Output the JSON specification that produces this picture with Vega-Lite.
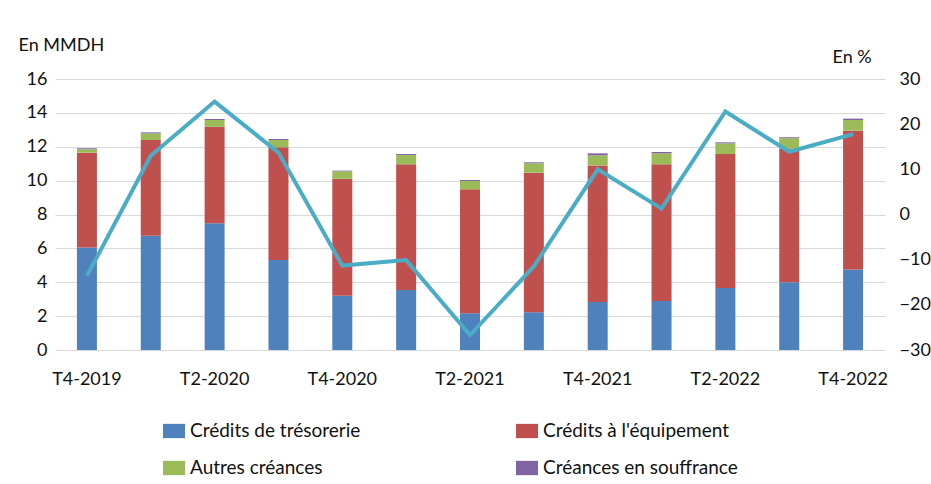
{
  "$schema": "https://vega.github.io/schema/vega-lite/v6.json",
  "width": 830,
  "height": 271,
  "autosize": {"type": "none"},
  "padding": {"left": 55, "top": 79, "right": 46, "bottom": 134},
  "background": "white",
  "config": {
    "font": "Lato",
    "view": {"stroke": null},
    "axis": {"labelFont": "Lato", "titleFont": "Lato", "labelColor": "#111", "titleColor": "#111", "labelFontSize": 18, "titleFontSize": 18, "titleFontWeight": "normal"},
    "legend": {"labelFont": "Lato", "labelFontSize": 19, "labelColor": "#111"}
  },
  "datasets": {
    "bars": [
      {"q": "T4-2019", "serie": "Crédits de trésorerie", "rang": 1, "v": 6.05},
      {"q": "T4-2019", "serie": "Crédits à l'équipement", "rang": 2, "v": 5.6},
      {"q": "T4-2019", "serie": "Autres créances", "rang": 3, "v": 0.2},
      {"q": "T4-2019", "serie": "Créances en souffrance", "rang": 4, "v": 0.06},
      {"q": "T1-2020", "serie": "Crédits de trésorerie", "rang": 1, "v": 6.75},
      {"q": "T1-2020", "serie": "Crédits à l'équipement", "rang": 2, "v": 5.65},
      {"q": "T1-2020", "serie": "Autres créances", "rang": 3, "v": 0.39},
      {"q": "T1-2020", "serie": "Créances en souffrance", "rang": 4, "v": 0.06},
      {"q": "T2-2020", "serie": "Crédits de trésorerie", "rang": 1, "v": 7.48},
      {"q": "T2-2020", "serie": "Crédits à l'équipement", "rang": 2, "v": 5.7},
      {"q": "T2-2020", "serie": "Autres créances", "rang": 3, "v": 0.4},
      {"q": "T2-2020", "serie": "Créances en souffrance", "rang": 4, "v": 0.06},
      {"q": "T3-2020", "serie": "Crédits de trésorerie", "rang": 1, "v": 5.31},
      {"q": "T3-2020", "serie": "Crédits à l'équipement", "rang": 2, "v": 6.66},
      {"q": "T3-2020", "serie": "Autres créances", "rang": 3, "v": 0.43},
      {"q": "T3-2020", "serie": "Créances en souffrance", "rang": 4, "v": 0.06},
      {"q": "T4-2020", "serie": "Crédits de trésorerie", "rang": 1, "v": 3.2},
      {"q": "T4-2020", "serie": "Crédits à l'équipement", "rang": 2, "v": 6.91},
      {"q": "T4-2020", "serie": "Autres créances", "rang": 3, "v": 0.44},
      {"q": "T4-2020", "serie": "Créances en souffrance", "rang": 4, "v": 0.04},
      {"q": "T1-2021", "serie": "Crédits de trésorerie", "rang": 1, "v": 3.54},
      {"q": "T1-2021", "serie": "Crédits à l'équipement", "rang": 2, "v": 7.42},
      {"q": "T1-2021", "serie": "Autres créances", "rang": 3, "v": 0.55},
      {"q": "T1-2021", "serie": "Créances en souffrance", "rang": 4, "v": 0.06},
      {"q": "T2-2021", "serie": "Crédits de trésorerie", "rang": 1, "v": 2.17},
      {"q": "T2-2021", "serie": "Crédits à l'équipement", "rang": 2, "v": 7.32},
      {"q": "T2-2021", "serie": "Autres créances", "rang": 3, "v": 0.49},
      {"q": "T2-2021", "serie": "Créances en souffrance", "rang": 4, "v": 0.06},
      {"q": "T3-2021", "serie": "Crédits de trésorerie", "rang": 1, "v": 2.23},
      {"q": "T3-2021", "serie": "Crédits à l'équipement", "rang": 2, "v": 8.24},
      {"q": "T3-2021", "serie": "Autres créances", "rang": 3, "v": 0.55},
      {"q": "T3-2021", "serie": "Créances en souffrance", "rang": 4, "v": 0.06},
      {"q": "T4-2021", "serie": "Crédits de trésorerie", "rang": 1, "v": 2.83},
      {"q": "T4-2021", "serie": "Crédits à l'équipement", "rang": 2, "v": 8.07},
      {"q": "T4-2021", "serie": "Autres créances", "rang": 3, "v": 0.59},
      {"q": "T4-2021", "serie": "Créances en souffrance", "rang": 4, "v": 0.12},
      {"q": "T1-2022", "serie": "Crédits de trésorerie", "rang": 1, "v": 2.89},
      {"q": "T1-2022", "serie": "Crédits à l'équipement", "rang": 2, "v": 8.07},
      {"q": "T1-2022", "serie": "Autres créances", "rang": 3, "v": 0.65},
      {"q": "T1-2022", "serie": "Créances en souffrance", "rang": 4, "v": 0.08},
      {"q": "T2-2022", "serie": "Crédits de trésorerie", "rang": 1, "v": 3.66},
      {"q": "T2-2022", "serie": "Crédits à l'équipement", "rang": 2, "v": 7.91},
      {"q": "T2-2022", "serie": "Autres créances", "rang": 3, "v": 0.63},
      {"q": "T2-2022", "serie": "Créances en souffrance", "rang": 4, "v": 0.06},
      {"q": "T3-2022", "serie": "Crédits de trésorerie", "rang": 1, "v": 4.0},
      {"q": "T3-2022", "serie": "Crédits à l'équipement", "rang": 2, "v": 7.9},
      {"q": "T3-2022", "serie": "Autres créances", "rang": 3, "v": 0.6},
      {"q": "T3-2022", "serie": "Créances en souffrance", "rang": 4, "v": 0.06},
      {"q": "T4-2022", "serie": "Crédits de trésorerie", "rang": 1, "v": 4.76},
      {"q": "T4-2022", "serie": "Crédits à l'équipement", "rang": 2, "v": 8.19},
      {"q": "T4-2022", "serie": "Autres créances", "rang": 3, "v": 0.63},
      {"q": "T4-2022", "serie": "Créances en souffrance", "rang": 4, "v": 0.08}
    ],
    "taux": [
      {"q": "T4-2019", "t": -13.6},
      {"q": "T1-2020", "t": 13.0},
      {"q": "T2-2020", "t": 25.0},
      {"q": "T3-2020", "t": 13.7},
      {"q": "T4-2020", "t": -11.3},
      {"q": "T1-2021", "t": -10.1},
      {"q": "T2-2021", "t": -26.7},
      {"q": "T3-2021", "t": -11.5},
      {"q": "T4-2021", "t": 10.0},
      {"q": "T1-2022", "t": 1.3},
      {"q": "T2-2022", "t": 22.8},
      {"q": "T3-2022", "t": 13.9},
      {"q": "T4-2022", "t": 17.8}
    ]
  },
  "encoding": {
    "x": {
      "field": "q",
      "type": "nominal",
      "sort": null,
      "scale": {"paddingInner": 0, "paddingOuter": 0},
      "axis": {
        "title": null,
        "labelAngle": 0,
        "domain": false,
        "ticks": false,
        "labelPadding": 20,
        "values": ["T4-2019", "T2-2020", "T4-2020", "T2-2021", "T4-2021", "T2-2022", "T4-2022"]
      }
    }
  },
  "layer": [
    {
      "data": {"name": "bars"},
      "mark": {"type": "bar", "size": 20},
      "encoding": {
        "y": {
          "field": "v",
          "type": "quantitative",
          "stack": "zero",
          "scale": {"domain": [0, 16], "nice": false},
          "axis": {
            "orient": "left",
            "values": [0, 2, 4, 6, 8, 10, 12, 14, 16],
            "grid": true,
            "gridColor": "#D9D9D9",
            "gridWidth": 1.2,
            "domain": false,
            "ticks": false,
            "labelPadding": 8,
            "title": "En MMDH",
            "titleAngle": 0,
            "titleAlign": "left",
            "titleBaseline": "middle",
            "titleX": -37,
            "titleY": -34
          }
        },
        "color": {
          "field": "serie",
          "type": "nominal",
          "sort": ["Crédits de trésorerie", "Crédits à l'équipement", "Autres créances", "Créances en souffrance"],
          "scale": {
            "domain": ["Crédits de trésorerie", "Crédits à l'équipement", "Autres créances", "Créances en souffrance"],
            "range": ["#4F81BD", "#C0504D", "#9BBB59", "#8064A2"]
          },
          "legend": {
            "title": null,
            "orient": "none",
            "direction": "horizontal",
            "legendX": 108,
            "legendY": 341,
            "columns": 2,
            "columnPadding": 155,
            "rowPadding": 16,
            "labelLimit": 400,
            "symbolType": "M-1,-0.65L1,-0.65L1,0.65L-1,0.65Z",
            "symbolSize": 484,
            "symbolStrokeWidth": 0,
            "labelOffset": 5
          }
        },
        "order": {"field": "rang", "type": "quantitative", "sort": "ascending"}
      }
    },
    {
      "data": {"name": "taux"},
      "mark": {"type": "line", "color": "#4BACC6", "strokeWidth": 4, "strokeJoin": "miter"},
      "encoding": {
        "y": {
          "field": "t",
          "type": "quantitative",
          "scale": {"domain": [-30, 30], "nice": false},
          "axis": {
            "orient": "right",
            "values": [-30, -20, -10, 0, 10, 20, 30],
            "grid": false,
            "domain": false,
            "ticks": false,
            "labelPadding": 14,
            "title": "En %",
            "titleAngle": 0,
            "titleAlign": "left",
            "titleBaseline": "middle",
            "titleX": -53,
            "titleY": -22
          }
        }
      }
    }
  ],
  "resolve": {"scale": {"y": "independent"}}
}
